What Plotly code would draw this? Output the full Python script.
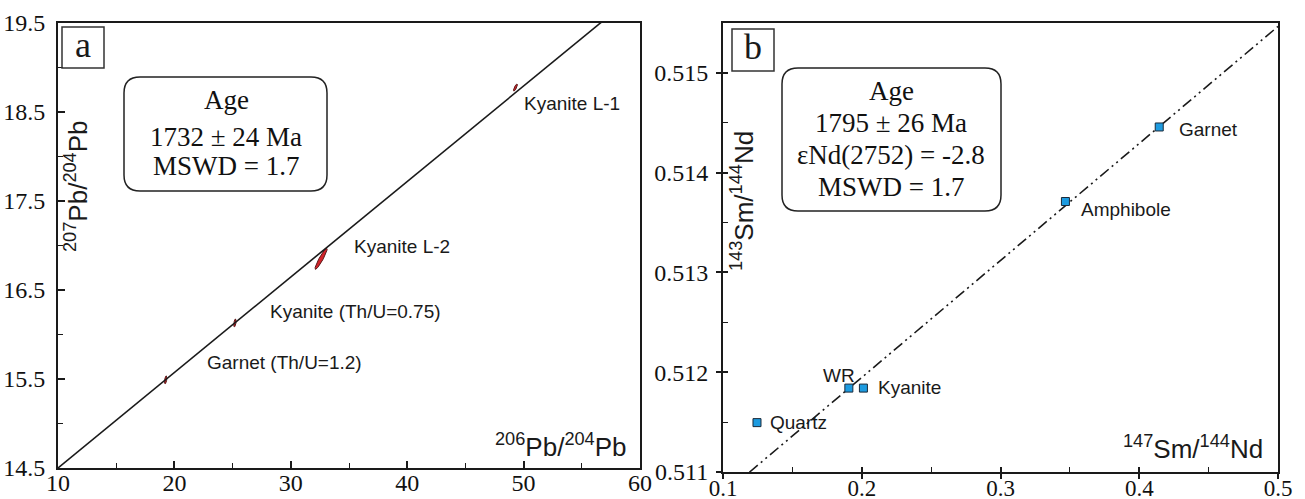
import numpy as np
import plotly.graph_objects as go

W, H = 1305, 499

# ---- Panel a: Pb-Pb isochron (207Pb/204Pb vs 206Pb/204Pb) ----
pb_names = ["Kyanite L-1", "Kyanite L-2", "Kyanite (Th/U=0.75)", "Garnet (Th/U=1.2)"]
pb_x = [49.3, 32.6, 25.2, 19.25]          # 206Pb/204Pb
pb_y = [18.775, 16.85, 16.13, 15.49]      # 207Pb/204Pb
pb_sx = [0.17, 0.52, 0.10, 0.10]          # 2 sigma, x
pb_sy = [0.040, 0.118, 0.045, 0.045]      # 2 sigma, y
pb_rho = [0.80, 0.93, 0.50, 0.50]         # error correlation
pb_slope, pb_icpt = 0.1073, 13.427
pb_fit_x = [10, 60]
pb_lab_dx = [7, 31, 33, 39]               # label offsets (px)
pb_lab_dy = [-16, 12, 11, 17]

# ---- Panel b: Sm-Nd isochron (143Nd/144Nd vs 147Sm/144Nd) ----
sm_names = ["Quartz", "WR", "Kyanite", "Amphibole", "Garnet"]
sm_x = [0.1245, 0.1907, 0.2012, 0.3468, 0.4144]
sm_y = [0.511495, 0.511841, 0.511841, 0.513711, 0.514458]
sm_slope, sm_icpt = 0.011727, 0.509602
sm_fit_x = [0.119, 0.5]
sm_lab_dx = [11, -28, 13, 14, 18]
sm_lab_dy = [0, 13, 1, -8, -3]

SERIF = "Liberation Serif, Times New Roman, serif"
SANS = "Liberation Sans, Arial, sans-serif"


def px(x):
    return x / W


def py(y):
    return 1 - y / H


fig = go.Figure()

# error ellipses
t = np.linspace(0, 2 * np.pi, 80)
for cx, cy, sx, sy, r in zip(pb_x, pb_y, pb_sx, pb_sy, pb_rho):
    ex = cx + sx * np.cos(t)
    ey = cy + sy * (r * np.cos(t) + np.sqrt(1 - r * r) * np.sin(t))
    fig.add_trace(go.Scatter(x=ex, y=ey, mode="lines", fill="toself",
                             fillcolor="#d3232a", line=dict(color="#5a1818", width=1),
                             xaxis="x", yaxis="y", hoverinfo="skip", showlegend=False))

fx = np.array(pb_fit_x, dtype=float)
fig.add_trace(go.Scatter(x=fx, y=pb_icpt + pb_slope * fx, mode="lines",
                         line=dict(color="#1a1a1a", width=1.6),
                         xaxis="x", yaxis="y", hoverinfo="skip", showlegend=False))

# Sm-Nd isochron line and points
gx = np.array(sm_fit_x, dtype=float)
fig.add_trace(go.Scatter(x=gx, y=sm_icpt + sm_slope * gx, mode="lines",
                         line=dict(color="#1a1a1a", width=1.6,
                                   dash="11px,4px,2px,4px,2px,4px"),
                         xaxis="x2", yaxis="y2", hoverinfo="skip", showlegend=False))
fig.add_trace(go.Scatter(x=sm_x, y=sm_y, mode="markers",
                         marker=dict(symbol="square", size=8, color="#1d9be0",
                                     line=dict(color="#1a2a3a", width=1)),
                         xaxis="x2", yaxis="y2", hoverinfo="skip", showlegend=False))
# carrier trace for the inward tick overlay of panel b
fig.add_trace(go.Scatter(x=[], y=[], xaxis="x3", yaxis="y3", showlegend=False,
                         hoverinfo="skip"))

dom_ax = [px(58), px(640)]
dom_ay = [py(468), py(23)]
dom_bx = [px(723), px(1278)]
dom_by = [py(472), py(23)]

tickfont = dict(family=SERIF, size=24, color="#111")
xtickfont_b = dict(family=SERIF, size=23, color="#111")
frame = dict(showline=True, linecolor="#1a1a1a", linewidth=2, mirror=True,
             showgrid=False, zeroline=False)

fig.update_layout(
    width=W, height=H, margin=dict(l=0, r=0, t=0, b=0, autoexpand=False),
    paper_bgcolor="white", plot_bgcolor="white", showlegend=False,
    xaxis=dict(domain=dom_ax, range=[10, 60], anchor="y", tickvals=[10, 20, 30, 40, 50, 60],
               ticks="inside", ticklen=7, tickwidth=1.5, tickcolor="#1a1a1a",
               minor=dict(tickvals=[15, 25, 35, 45, 55], ticks="inside", ticklen=5,
                          tickwidth=1.2, tickcolor="#1a1a1a"),
               tickfont=tickfont, ticklabelstandoff=-8, **frame),
    yaxis=dict(domain=dom_ay, range=[14.5, 19.5], anchor="x",
               tickvals=[14.5, 15.5, 16.5, 17.5, 18.5, 19.5], tickformat=".1f",
               ticks="inside", ticklen=7, tickwidth=1.5, tickcolor="#1a1a1a",
               minor=dict(tickvals=[15, 16, 17, 18, 19], ticks="inside", ticklen=5,
                          tickwidth=1.2, tickcolor="#1a1a1a"),
               tickfont=tickfont, ticklabelstandoff=6, **frame),
    xaxis2=dict(domain=dom_bx, range=[0.1, 0.5], anchor="y2",
                tickvals=[0.1, 0.2, 0.3, 0.4, 0.5], tickformat=".1f",
                ticks="outside", ticklen=5, tickwidth=1.5, tickcolor="#1a1a1a",
                tickfont=xtickfont_b, ticklabelstandoff=-11, **frame),
    yaxis2=dict(domain=dom_by, range=[0.511, 0.5155], anchor="x2",
                tickvals=[0.511, 0.512, 0.513, 0.514, 0.515], tickformat=".3f",
                ticks="outside", ticklen=5, tickwidth=1.5, tickcolor="#1a1a1a",
                tickfont=tickfont, ticklabelstandoff=3, **frame),
    xaxis3=dict(domain=dom_bx, range=[0.1, 0.5], anchor="y3", overlaying="x2",
                tickvals=[0.1, 0.2, 0.3, 0.4, 0.5], showticklabels=False,
                ticks="inside", ticklen=5, tickwidth=1.5, tickcolor="#1a1a1a",
                minor=dict(tickvals=[0.15, 0.25, 0.35, 0.45], ticks="inside", ticklen=5,
                           tickwidth=1.2, tickcolor="#1a1a1a"),
                showline=False, showgrid=False, zeroline=False),
    yaxis3=dict(domain=dom_by, range=[0.511, 0.5155], anchor="x3", overlaying="y2",
                tickvals=[0.511, 0.512, 0.513, 0.514, 0.515], showticklabels=False,
                ticks="inside", ticklen=5, tickwidth=1.5, tickcolor="#1a1a1a",
                minor=dict(tickvals=[0.5115, 0.5125, 0.5135, 0.5145, 0.5155],
                           ticks="inside", ticklen=5, tickwidth=1.2, tickcolor="#1a1a1a"),
                showline=False, showgrid=False, zeroline=False),
)

ann = []
labfont = dict(family=SANS, size=19, color="#1a1a1a")

for name, x, y, dx, dy in zip(pb_names, pb_x, pb_y, pb_lab_dx, pb_lab_dy):
    ann.append(dict(x=x, y=y, xref="x", yref="y", text=name, showarrow=False,
                    xanchor="left", yanchor="middle", xshift=dx, yshift=dy, font=labfont))
for name, x, y, dx, dy in zip(sm_names, sm_x, sm_y, sm_lab_dx, sm_lab_dy):
    ann.append(dict(x=x, y=y, xref="x2", yref="y2", text=name, showarrow=False,
                    xanchor="left", yanchor="middle", xshift=dx, yshift=dy, font=labfont))


def note(x, y, text, font, angle=0):
    return dict(x=px(x), y=py(y), xref="paper", yref="paper", text=text,
                showarrow=False, xanchor="center", yanchor="middle",
                textangle=angle, font=font)


titlefont = dict(family=SANS, size=26, color="#1a1a1a")
ann += [
    note(77, 186, "<sup>207</sup>Pb/<sup>204</sup>Pb", titlefont, -90),
    note(561, 445, "<sup>206</sup>Pb/<sup>204</sup>Pb", titlefont),
    note(742, 201, "<sup>143</sup>Sm/<sup>144</sup>Nd", titlefont, -90),
    note(1193, 447, "<sup>147</sup>Sm/<sup>144</sup>Nd", titlefont),
]

# panel letters
letterfont = dict(family=SERIF, size=36, color="#1a1a1a")
ann += [note(83, 45, "a", letterfont), note(753, 47, "b", letterfont)]

# age summary text
boxfont = dict(family=SERIF, size=27, color="#111")
for txt, yy in [("Age", 100), ("1732 ± 24 Ma", 137), ("MSWD = 1.7", 166)]:
    ann.append(note(226, yy, txt, boxfont))
for txt, yy in [("Age", 91), ("1795 ± 26 Ma", 123), ("εNd(2752) = -2.8", 155),
                ("MSWD = 1.7", 187)]:
    ann.append(note(891, yy, txt, boxfont))

fig.update_layout(annotations=ann)


def rounded(x0, y0, x1, y1, r):
    X0, X1 = px(x0), px(x1)
    Y0, Y1 = py(y0), py(y1)
    rx, ry = r / W, r / H
    return (f"M {X0 + rx} {Y0} L {X1 - rx} {Y0} Q {X1} {Y0} {X1} {Y0 - ry} "
            f"L {X1} {Y1 + ry} Q {X1} {Y1} {X1 - rx} {Y1} "
            f"L {X0 + rx} {Y1} Q {X0} {Y1} {X0} {Y1 + ry} "
            f"L {X0} {Y0 - ry} Q {X0} {Y0} {X0 + rx} {Y0} Z")


shapes = [
    dict(type="path", path=rounded(124, 77, 327, 191, 16), xref="paper", yref="paper",
         line=dict(color="#222", width=1.5)),
    dict(type="path", path=rounded(782, 68, 1001, 211, 16), xref="paper", yref="paper",
         line=dict(color="#222", width=1.5)),
    dict(type="rect", x0=px(62), x1=px(104), y0=py(68), y1=py(27), xref="paper",
         yref="paper", line=dict(color="#333", width=1.5)),
    dict(type="rect", x0=px(732), x1=px(774), y0=py(71), y1=py(29), xref="paper",
         yref="paper", line=dict(color="#333", width=1.5)),
]
fig.update_layout(shapes=shapes)

fig.write_html("out.html")
